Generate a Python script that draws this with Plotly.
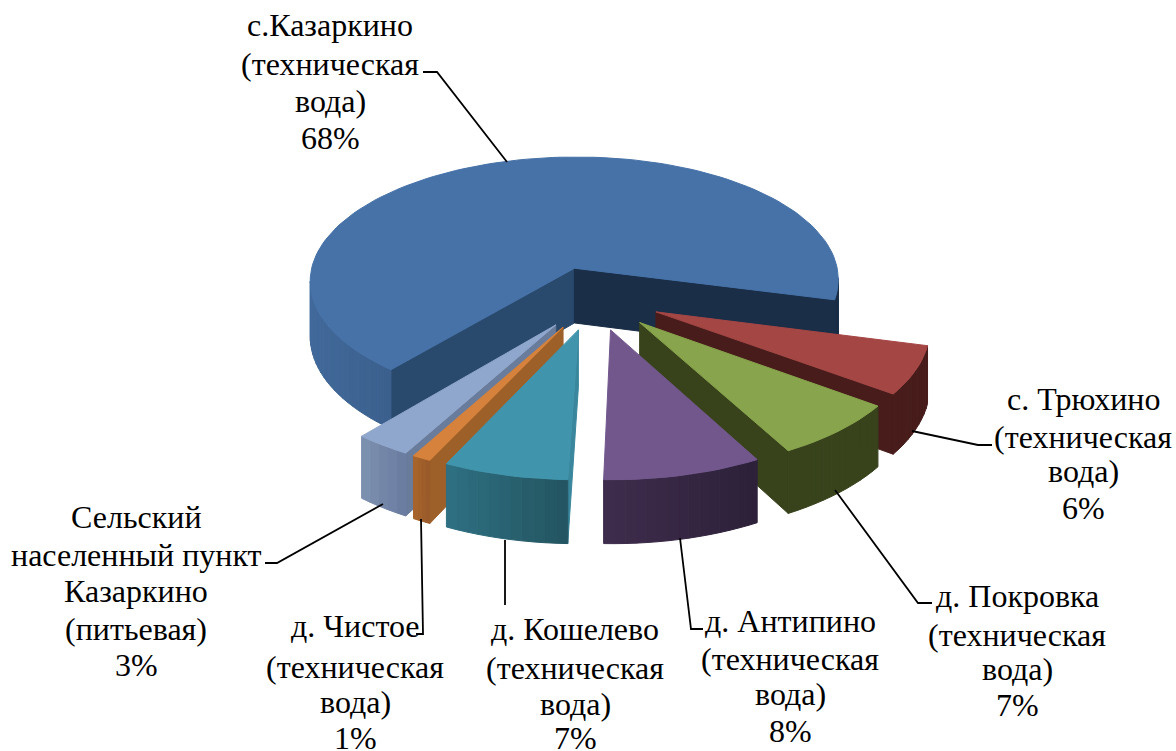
import math
import plotly.graph_objects as go

# ---- data (in drawing sequence of the original pie, clockwise) ----
names = ["с.Казаркино", "с. Трюхино", "д. Покровка", "д. Антипино",
         "д. Кошелево", "д. Чистое", "Сельский"]
shares = [68, 6, 7, 8.4, 6.6, 1, 3]
label_lines = [
    ["с.Казаркино", "(техническая", "вода)", "68%"],
    ["с. Трюхино", "(техническая", "вода)", "6%"],
    ["д. Покровка", "(техническая", "вода)", "7%"],
    ["д. Антипино", "(техническая", "вода)", "8%"],
    ["д. Кошелево", "(техническая", "вода)", "7%"],
    ["д. Чистое", "(техническая", "вода)", "1%"],
    ["Сельский", "населенный пункт", "Казаркино", "(питьевая)", "3%"],
]

# ---- styles ----
top_col = ["#4672A8", "#A44644", "#88A44C", "#72578D", "#4095AD", "#D6823C", "#90A7CD"]
# wall on the leading radial edge, wall on the trailing radial edge
start_wall = ["#2A4A6D", "#471C1A", "#38431C", "#3F2C4D", "#3A869C", "#9E6029", "#6A7C9C"]
end_wall = ["#1A2E47", "#471C1A", "#38431C", "#2C2139", "#2F7082", "#9E6029", "#7D91B0"]
# outer wall colour: right end, left end (screen sense)
outer_r = ["#1A2E47", "#471C1A", "#38431C", "#2C2139", "#235460", "#98592A", "#6A7BA0"]
outer_l = ["#41699A", "#471C1A", "#38431C", "#3F2C4D", "#2F7082", "#A8662C", "#7D91B0"]

FONT = "Liberation Serif"
FSIZE = 32

# layout of labels: centre x, y of each line
label_x = [330, 1083, 1017, 790, 575, 355, 136]
label_y = [
    [25, 64, 101, 138],
    [399, 437, 471, 508],
    [596, 635, 669, 705],
    [621, 659, 694, 731],
    [629, 668, 704, 738],
    [626, 667, 702, 738],
    [517, 555, 591, 629, 665],
]
leaders = [
    [(423, 72), (437, 72), (507, 162)],
    [(912, 431), (978, 445), (992, 445)],
    [(835, 490), (918, 603), (932, 603)],
    [(680, 538), (691, 629), (703, 629)],
    [(505, 540), (505, 605)],
    [(421, 519), (423, 634), (416, 634)],
    [(383, 504), (277, 563), (265, 563)],
]

# ---- projection of the 3-D pie ----
CX, CY, RX, RY, PERSP, DEPTH, EXPLODE, START = 594.5, 298, 269, 128, 0.1, 56, 0.25, 230.2


def project(x, y, z=0.0):
    p = 1 / (1 + PERSP * y)
    return CX + RX * x * p, CY - RY * y * p + z * DEPTH * p


def hexmix(a, b, t):
    ca = [int(a[i:i + 2], 16) for i in (1, 3, 5)]
    cb = [int(b[i:i + 2], 16) for i in (1, 3, 5)]
    return "#%02x%02x%02x" % tuple(round(u + (v - u) * t) for u, v in zip(ca, cb))


def poly(pts, color):
    xs = [p[0] for p in pts] + [pts[0][0]]
    ys = [p[1] for p in pts] + [pts[0][1]]
    return go.Scatter(x=xs, y=ys, mode="lines", fill="toself", fillcolor=color,
                      line=dict(color=color, width=1), hoverinfo="skip", showlegend=False)


def faces_viewer(a, b, g):
    """wall hanging below edge a-b is visible if the top's interior g is on the other side."""
    ex, ey = b[0] - a[0], b[1] - a[1]
    down = ex * 1
    inner = ex * (g[1] - a[1]) - ey * (g[0] - a[0])
    return down * inner < 0


slices = []
cum = 0
for i, s in enumerate(shares):
    a0 = START - cum * 3.6          # clockwise from START
    a1 = a0 - s * 3.6
    mid = math.radians((a0 + a1) / 2)
    ox, oy = EXPLODE * math.cos(mid), EXPLODE * math.sin(mid)
    slices.append((i, a0, a1, ox, oy))
    cum += s

# far slices first
order = sorted(slices, key=lambda q: -q[4])
traces = []
for i, a0, a1, ox, oy in order:
    n = max(4, int(abs(a1 - a0) / 2))
    angs = [math.radians(a0 + (a1 - a0) * k / n) for k in range(n + 1)]
    rim = [(ox + math.cos(t), oy + math.sin(t)) for t in angs]
    apex = project(ox, oy)
    top = [apex] + [project(*r) for r in rim]
    mx = sum(p[0] for p in top) / len(top)
    my = sum(p[1] for p in top) / len(top)
    g = (mx, my)
    # radial walls
    for rimpt, col in ((rim[0], start_wall[i]), (rim[-1], end_wall[i])):
        a = project(ox, oy)
        b = project(*rimpt)
        if faces_viewer(a, b, g):
            traces.append(poly([a, b, project(*rimpt, 1), project(ox, oy, 1)], col))
    # curved outer wall, shaded along the screen
    xs = [project(*r)[0] for r in rim]
    lo, hi = min(xs), max(xs)
    for k in range(n):
        a, b = project(*rim[k]), project(*rim[k + 1])
        if faces_viewer(a, b, apex):
            t = ((a[0] + b[0]) / 2 - lo) / (hi - lo)
            traces.append(poly([a, b, project(*rim[k + 1], 1), project(*rim[k], 1)],
                               hexmix(outer_l[i], outer_r[i], t)))
    traces.append(poly(top, top_col[i]))

fig = go.Figure(traces)

for pts in leaders:
    fig.add_trace(go.Scatter(x=[p[0] for p in pts], y=[p[1] for p in pts], mode="lines",
                             line=dict(color="#000000", width=1.8),
                             hoverinfo="skip", showlegend=False))

for lines, x, ys in zip(label_lines, label_x, label_y):
    for line, y in zip(lines, ys):
        fig.add_annotation(x=x, y=y, text=line, showarrow=False, xanchor="center", yanchor="middle",
                           font=dict(family=FONT, size=FSIZE, color="#000000"))

fig.update_layout(
    width=1176, height=751, margin=dict(l=0, r=0, t=0, b=0),
    paper_bgcolor="#ffffff", plot_bgcolor="#ffffff", showlegend=False,
    xaxis=dict(range=[0, 1176], visible=False, fixedrange=True),
    yaxis=dict(range=[751, 0], visible=False, fixedrange=True),
)

fig.write_html("out.html", config={"displayModeBar": False},
               post_script="document.body.style.margin='0';document.documentElement.style.overflow='hidden';")
